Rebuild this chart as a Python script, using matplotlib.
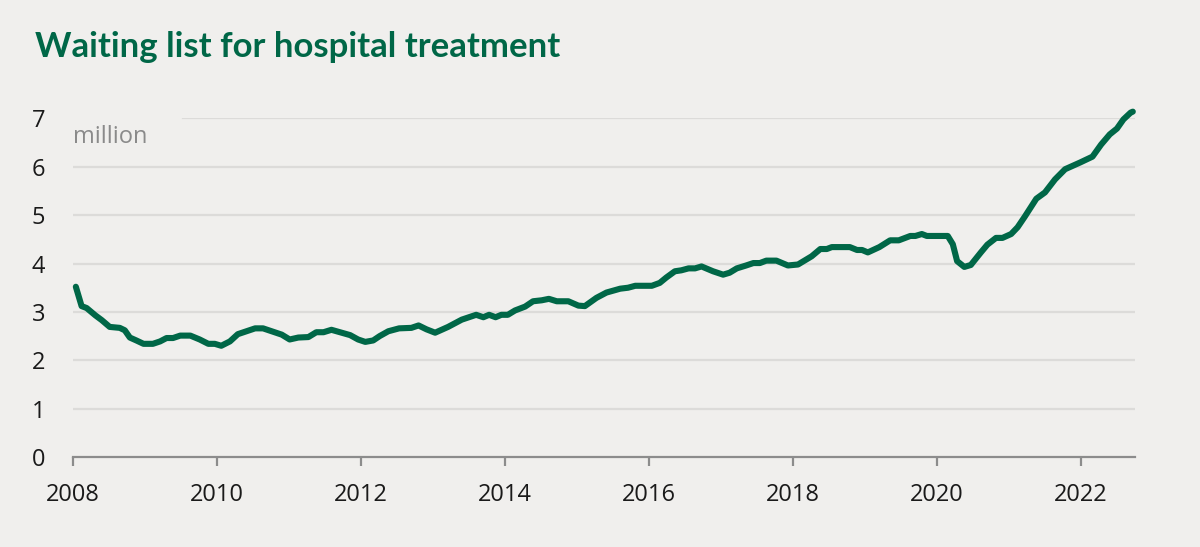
import matplotlib.pyplot as plt

# waiting list, million (dates as decimal years)
dates = [2008.04, 2008.12, 2008.19, 2008.31, 2008.40, 2008.51, 2008.65, 2008.72, 2008.79, 2008.88,
         2008.98, 2009.11, 2009.21, 2009.30, 2009.39, 2009.49, 2009.63, 2009.76, 2009.88, 2009.97,
         2010.06, 2010.18, 2010.29, 2010.41, 2010.53, 2010.64, 2010.78, 2010.90, 2011.01, 2011.13,
         2011.27, 2011.38, 2011.48, 2011.59, 2011.71, 2011.85, 2011.96, 2012.06, 2012.17, 2012.26,
         2012.38, 2012.53, 2012.70, 2012.80, 2012.91, 2013.03, 2013.21, 2013.40, 2013.60, 2013.70,
         2013.78, 2013.87, 2013.95, 2014.04, 2014.14, 2014.28, 2014.39, 2014.51, 2014.61, 2014.72,
         2014.88, 2015.02, 2015.11, 2015.27, 2015.41, 2015.60, 2015.71, 2015.81, 2016.04, 2016.15,
         2016.24, 2016.36, 2016.45, 2016.55, 2016.64, 2016.73, 2016.89, 2017.03, 2017.12, 2017.22,
         2017.35, 2017.45, 2017.54, 2017.63, 2017.77, 2017.93, 2018.07, 2018.26, 2018.38, 2018.47,
         2018.54, 2018.79, 2018.89, 2018.96, 2019.04, 2019.20, 2019.35, 2019.47, 2019.63, 2019.70,
         2019.79, 2019.86, 2020.15, 2020.22, 2020.28, 2020.38, 2020.47, 2020.61, 2020.70, 2020.82,
         2020.91, 2021.03, 2021.12, 2021.22, 2021.28, 2021.38, 2021.50, 2021.64, 2021.78, 2021.90,
         2021.99, 2022.16, 2022.28, 2022.40, 2022.50, 2022.59, 2022.69, 2022.72]
waiting = [3.52, 3.12, 3.08, 2.93, 2.83, 2.69, 2.67, 2.62, 2.47, 2.41,
           2.34, 2.34, 2.39, 2.46, 2.46, 2.51, 2.51, 2.43, 2.34, 2.34,
           2.30, 2.39, 2.54, 2.60, 2.66, 2.66, 2.59, 2.53, 2.43, 2.47,
           2.48, 2.58, 2.58, 2.63, 2.58, 2.52, 2.43, 2.38, 2.41, 2.50,
           2.60, 2.66, 2.67, 2.72, 2.64, 2.57, 2.69, 2.84, 2.94, 2.89,
           2.94, 2.89, 2.94, 2.94, 3.03, 3.11, 3.22, 3.24, 3.27, 3.22,
           3.22, 3.13, 3.12, 3.29, 3.40, 3.48, 3.50, 3.54, 3.54, 3.60,
           3.71, 3.84, 3.86, 3.90, 3.90, 3.94, 3.84, 3.77, 3.81, 3.90,
           3.96, 4.01, 4.01, 4.06, 4.06, 3.96, 3.98, 4.15, 4.30, 4.30,
           4.34, 4.34, 4.28, 4.28, 4.23, 4.34, 4.48, 4.48, 4.57, 4.57,
           4.61, 4.57, 4.57, 4.40, 4.05, 3.93, 3.97, 4.23, 4.39, 4.53,
           4.53, 4.61, 4.75, 4.97, 5.11, 5.34, 5.47, 5.74, 5.95, 6.03,
           6.09, 6.21, 6.46, 6.67, 6.79, 6.98, 7.12, 7.14]

year_ticks = [2008, 2010, 2012, 2014, 2016, 2018, 2020, 2022]
y_ticks = [0, 1, 2, 3, 4, 5, 6, 7]

bg = "#f0efed"
green = "#006747"
grid_col = "#dcdbd9"

plt.rcParams['font.family'] = ['Open Sans', 'DejaVu Sans']

fig = plt.figure(figsize=(12, 5.47), dpi=100, facecolor=bg)
ax = fig.add_axes([0.0608, 0.1645, 0.885, 0.619])
ax.set_facecolor(bg)

# gridlines (top one shortened to leave room for the unit label)
for y in y_ticks[1:]:
    xmin = 0.104 if y == 7 else 0
    ax.axhline(y, xmin=xmin, xmax=1, color=grid_col, lw=1.6, zorder=1)

ax.plot(dates, waiting, color=green, lw=4.4, solid_capstyle='round',
        solid_joinstyle='round', zorder=3, clip_on=False)

ax.set_xlim(2008, 2022.75)
ax.set_ylim(0, 7)

for s in ['top', 'right', 'left']:
    ax.spines[s].set_visible(False)
ax.spines['bottom'].set_color('#8c8c8c')
ax.spines['bottom'].set_linewidth(1.6)

ax.set_xticks(year_ticks)
ax.set_xticklabels([str(y) for y in year_ticks])
ax.set_yticks(y_ticks)
ax.set_yticklabels([str(y) for y in y_ticks])
ax.tick_params(axis='x', length=6.5, width=1.6, color='#8c8c8c', pad=12,
               labelsize=17, labelcolor='#1a1a1a')
ax.tick_params(axis='y', length=0, pad=20, labelsize=17, labelcolor='#1a1a1a')

ax.text(ax.get_xlim()[0], 6.61, "million", fontsize=17, color='#8a8a8a',
        va='center', ha='left')

fig.text(0.029, 0.914, "Waiting list for hospital treatment", fontsize=25,
         fontweight='bold', color=green, family=['Lato', 'DejaVu Sans'], va='center')

fig.savefig("out.png", dpi=100, facecolor=bg)
